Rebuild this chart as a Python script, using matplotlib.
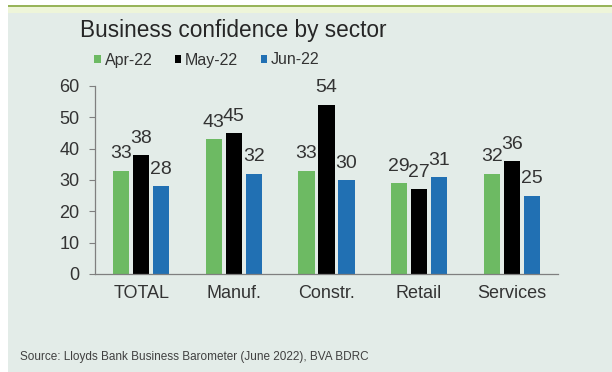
import numpy as np
import matplotlib.pyplot as plt
from matplotlib.patches import Rectangle

plt.rcParams['font.family'] = ['Liberation Sans', 'DejaVu Sans']

# data
sectors = ['TOTAL', 'Manuf.', 'Constr.', 'Retail', 'Services']
months = ['Apr-22', 'May-22', 'Jun-22']
apr22 = [33, 43, 33, 29, 32]
may22 = [38, 45, 54, 27, 36]
jun22 = [28, 32, 30, 31, 25]

colors = ['#6dba63', '#000000', '#2170b3']
panel_bg = '#e3ece8'
text_col = '#333333'

fig = plt.figure(figsize=(6.12, 3.72), dpi=100)
fig.patch.set_facecolor('white')

# panel background, with green rule across the top
fig.add_artist(Rectangle((8 / 612, 0), 1, 1 - 6 / 372, transform=fig.transFigure,
                         facecolor=panel_bg, edgecolor='none', zorder=0))
fig.add_artist(Rectangle((8 / 612, 1 - 13 / 372), 1, 7 / 372, transform=fig.transFigure,
                         facecolor='#eef5d9', edgecolor='none', zorder=0))
fig.add_artist(Rectangle((8 / 612, 1 - 7 / 372), 1, 2.5 / 372, transform=fig.transFigure,
                         facecolor='#98b45a', edgecolor='none', zorder=1))

ax = fig.add_axes([95 / 612, 98 / 372, 463 / 612, 188 / 372])
ax.set_facecolor('none')

x = np.arange(len(sectors))
step = 0.216
width = 0.173
series = [apr22, may22, jun22]
for i, (vals, col, lab) in enumerate(zip(series, colors, months)):
    pos = x + (i - 1) * step
    ax.bar(pos, vals, width=width, color=col, label=lab, zorder=2)
    for px, v in zip(pos, vals):
        ax.annotate(f'{v}', (px, v), xytext=(0, 6), textcoords='offset points',
                    ha='center', va='bottom', fontsize=14, color=text_col)

ax.set_xlim(-0.5, len(sectors) - 0.5)
ax.set_ylim(0, 60)
ax.set_yticks(range(0, 61, 10))
ax.set_xticks(x)
ax.set_xticklabels(sectors, fontsize=13, color=text_col)
ax.tick_params(axis='x', length=0, pad=8)
ax.tick_params(axis='y', labelsize=13, colors='#7f7f7f', labelcolor=text_col,
               length=4, direction='out', pad=7)
for side in ['top', 'right']:
    ax.spines[side].set_visible(False)
for side in ['left', 'bottom']:
    ax.spines[side].set_color('#7f7f7f')
    ax.spines[side].set_linewidth(0.9)

fig.text(80 / 612, 1 - 30 / 372, 'Business confidence by sector', fontsize=16.3,
         color='#262626', va='center', ha='left')

leg = ax.legend(loc='center left', bbox_to_anchor=(80 / 612, 1 - 60 / 372),
                bbox_transform=fig.transFigure, ncol=3, frameon=False,
                fontsize=11.5, handlelength=0.4, handleheight=0.4,
                handletextpad=0.25, columnspacing=1.4, labelcolor=text_col)

fig.text(20 / 612, 1 - 357 / 372,
         'Source: Lloyds Bank Business Barometer (June 2022), BVA BDRC',
         fontsize=8.5, color='#404040', va='center', ha='left')

fig.savefig('out.png', dpi=100, facecolor=fig.get_facecolor())
